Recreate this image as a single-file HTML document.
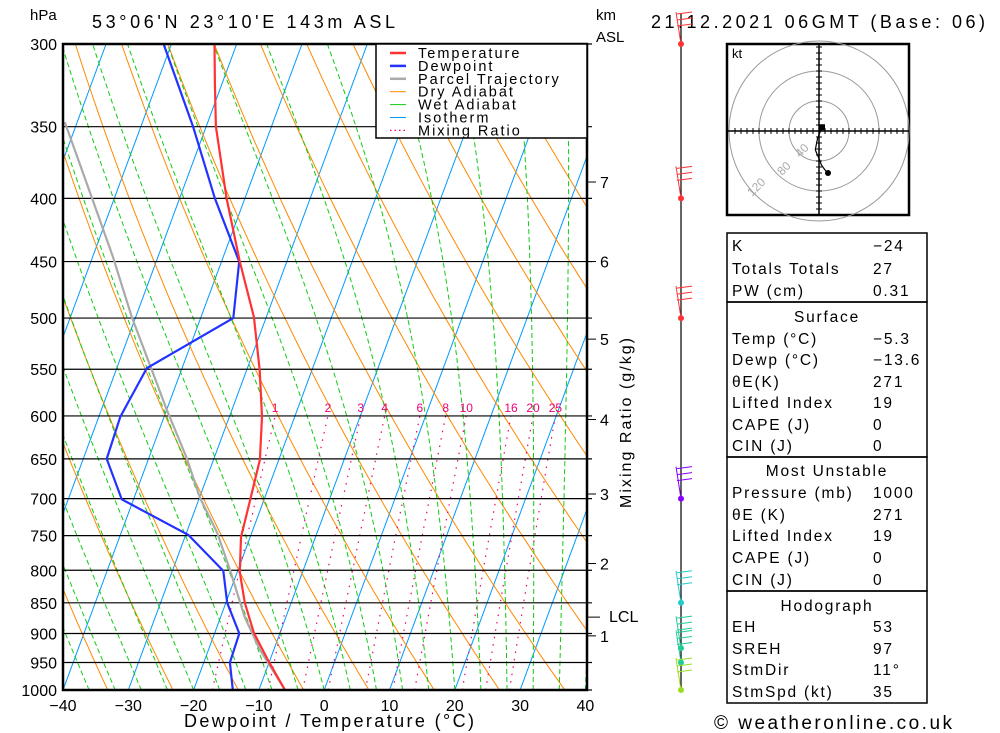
<!DOCTYPE html>
<html><head><meta charset="utf-8">
<style>
body{margin:0;background:#fff;}
svg{display:block;font-family:"Liberation Sans",sans-serif;}
</style></head>
<body>
<svg id="c" width="1000" height="733" viewBox="0 0 1000 733" xmlns="http://www.w3.org/2000/svg">
<defs><clipPath id="plot"><rect x="63" y="44" width="524" height="646"/></clipPath></defs>
<rect width="1000" height="733" fill="#fff"/>
<g id="bg" clip-path="url(#plot)"></g>
<g id="iso"></g>
<g id="series" clip-path="url(#plot)"></g>
<rect x="63" y="44" width="524" height="646" fill="none" stroke="#000" stroke-width="2.5"/>
<g id="axes" font-size="16"></g>
<text x="30" y="20" font-size="15">hPa</text>
<text x="92" y="28" font-size="18" textLength="303" lengthAdjust="spacing">53°06'N 23°10'E 143m ASL</text>
<text x="596" y="20" font-size="15">km</text>
<text x="596" y="42" font-size="15">ASL</text>
<text x="651" y="28" font-size="18" textLength="334" lengthAdjust="spacing">21.12.2021 06GMT (Base: 06)</text>
<text x="184" y="727" font-size="18" textLength="290" lengthAdjust="spacing">Dewpoint / Temperature (°C)</text>
<text transform="translate(631,508) rotate(-90)" font-size="16" textLength="170" lengthAdjust="spacing">Mixing Ratio (g/kg)</text>
<g>
<rect x="376" y="44" width="211" height="94" fill="#fff" stroke="#000" stroke-width="1.5"/>
<g font-size="14.5" letter-spacing="2" id="legend"></g>
</g>
<g id="winds"></g>
<g id="hodo"></g>
<g id="table" font-size="15.5" letter-spacing="1.8"></g>
<text x="714" y="729" font-size="19" textLength="238" lengthAdjust="spacing">© weatheronline.co.uk</text>
</svg>
<script>
// ---- data ----
const tempP = [300,323,350,400,450,499,551,601,651,702,752,803,850,899,946,1000];
const tempT = [-53.4,-51.1,-48.5,-42.8,-37.2,-31.9,-28.0,-25.0,-22.9,-22.1,-21.4,-19.6,-17.1,-14.0,-10.3,-6.0];
const dewP = [300,350,400,450,500,549,601,650,701,749,801,850,900,950,1000];
const dewT = [-61.2,-52.0,-44.6,-37.3,-35.0,-45.4,-46.7,-46.4,-41.8,-29.6,-22.2,-19.8,-16.2,-16.0,-14.0];
const parcelP = [347,400,446,499,551,593,649,698,746,800,873,928,1000];
const parcelT = [-71.9,-63.4,-56.9,-50.6,-44.5,-40.0,-34.2,-30.0,-25.3,-21.2,-16.3,-12.1,-6.0];
const isobars = [300,350,400,450,500,550,600,650,700,750,800,850,900,950,1000];
const xTicks = [-40,-30,-20,-10,0,10,20,30,40];
const kmLabels = [1,2,3,4,5,6,7];
const kmPress = [904,790,694,604,520,450,388];
const mixRatios = [1,2,3,4,6,8,10,16,20,25];
const windP = [300,400,500,700,850,925,950,1000];
const windColors = ['#f33','#f33','#f33','#80f','#2cc','#2c9','#2c9','#9d2'];
const hodoU = [4,-2,-5,-3,1,3,8,12];
const hodoV = [5,-10,-25,-30,-39,-45,-52,-56];

// ---- scales ----
const NS="http://www.w3.org/2000/svg";
function Y(p){return 44+Math.log(p/300)/Math.log(1000/300)*646;}
function X(T,p){return 63+(T+40)*6.53+(690-Y(p))*0.37;}
function el(tag,attrs,parent,txt){const e=document.createElementNS(NS,tag);for(const k in attrs)e.setAttribute(k,attrs[k]);if(txt!==undefined)e.textContent=txt;parent.appendChild(e);return e;}
function pathFrom(ps,ts){return ps.map((p,i)=>(i?'L':'M')+X(ts[i],p).toFixed(1)+','+Y(p).toFixed(1)).join('');}
const bg=document.getElementById('bg');
for(let T=-120;T<=40;T+=10){
  const l=el('line',{x1:X(T,1000),y1:Y(1000),x2:X(T,300),y2:Y(300),stroke:'#09f','stroke-width':1},bg);
  
  
}
const pS=[];for(let p=1000;p>=300;p-=10)pS.push(p);
for(let th=200;th<=500;th+=10){
  const ts=pS.map(p=>th*Math.pow(p/1000,0.286)-273.15);
  const l=el('path',{d:pathFrom(pS,ts),fill:'none',stroke:'#f80','stroke-width':1},bg);
  
  
}
function es(T){return 6.112*Math.exp(17.67*T/(T+243.5));}
for(let T0=-44;T0<=44;T0+=4){
  let T=T0+273.15;const ps=[1000],ts=[T0];
  for(let p=1000;p>300;p-=5){
    const rs=0.622*es(T-273.15)/(p-es(T-273.15));
    const d=(287*T+2.5e6*rs)/(p*(1004+2.5e6*2.5e6*rs*0.622/(287*T*T)));
    T-=d*5;ps.push(p-5);ts.push(T-273.15);
  }
  const l=el('path',{d:pathFrom(ps,ts),fill:'none',stroke:'#1c1','stroke-width':1,'stroke-dasharray':'5,3'},bg);
  
  
}
mixRatios.forEach(w=>{
  const ps=[],ts=[];
  for(let p=1000;p>=600;p-=20){const e=w*p/(622+w);const a=Math.log(e/6.112);ps.push(p);ts.push(243.5*a/(17.67-a));}
  const l=el('path',{d:pathFrom(ps,ts),fill:'none',stroke:'#e07','stroke-width':1.2,'stroke-dasharray':'1.5,6'},bg);
  
  
  const t=el('text',{x:X(ts[ts.length-1],600),y:412,fill:'#e07','font-size':12,'text-anchor':'middle'},document.getElementById('axes'),String(w));
  
  
});
const iso=document.getElementById('iso'),axes=document.getElementById('axes');
isobars.forEach(p=>{
  const l=el('line',{x1:63,x2:592,y1:Y(p),y2:Y(p),stroke:'#000','stroke-width':1.2},iso);
  
  
  const t=el('text',{x:57,y:Y(p)+6,'text-anchor':'end'},axes,String(p));
  
  
});
xTicks.forEach(T=>{
  const t=el('text',{x:X(T,1000),y:711,'text-anchor':'middle'},axes,(T<0?'−':'')+Math.abs(T));
  
  
});
kmLabels.forEach((k,i)=>{
  const y=Y(kmPress[i]);
  el('line',{x1:587,x2:596,y1:y,y2:y,stroke:'#000'},axes);
  const t=el('text',{x:600,y:y+6},axes,String(k));
  
  
});
el('line',{x1:587,x2:600,y1:Y(873),y2:Y(873),stroke:'#000'},axes);
const lcl=el('text',{x:609,y:Y(873)+5},axes,'LCL');


const ser=document.getElementById('series');
[[parcelP,parcelT,'#aaa','parcel-trajectory'],[dewP,dewT,'#23f','dewpoint-line'],[tempP,tempT,'#f33','temperature-line']].forEach(s=>{
  const l=el('path',{d:pathFrom(s[0],s[1]),fill:'none',stroke:s[2],'stroke-width':2.2},ser);
  
  
});
const lg=document.getElementById('legend');
[['Temperature','#f33',2.5,''],['Dewpoint','#23f',2.5,''],['Parcel Trajectory','#aaa',2.5,''],['Dry Adiabat','#f80',1,''],['Wet Adiabat','#1c1',1,''],['Isotherm','#09f',1,''],['Mixing Ratio','#e07',1.2,'1.5,3']].forEach((e,i)=>{
  const y=53+i*12.9;
  el('line',{x1:390,x2:406,y1:y,y2:y,stroke:e[1],'stroke-width':e[2],'stroke-dasharray':e[3]||'none'},lg);
  const t=el('text',{x:418,y:y+5},lg,e[0]);
  
  
});
const wg=document.getElementById('winds');
el('line',{x1:681,x2:681,y1:14,y2:690,stroke:'#000','stroke-width':1.2},wg);
windP.forEach((p,i)=>{
  const y=Y(p),c=windColors[i];
  el('line',{x1:681,y1:y,x2:676,y2:y-32,stroke:c},wg);
  for(let k=0;k<3;k++)el('line',{x1:677,y1:y-30+k*6,x2:692,y2:y-32+k*6,stroke:c},wg);
  const d=el('circle',{cx:681,cy:y,r:3,fill:c},wg);
  
  
});
const hg=document.getElementById('hodo');const cx=819,cy=131;
el('rect',{x:727,y:44,width:182,height:171,fill:'#fff',stroke:'#000','stroke-width':2.5},hg);
[30,60,90].forEach(r=>el('circle',{cx:cx,cy:cy,r:r,fill:'none',stroke:'#999'},hg));
el('line',{x1:727,x2:909,y1:cy,y2:cy,stroke:'#000','stroke-width':1.5},hg);
el('line',{x1:cx,x2:cx,y1:44,y2:215,stroke:'#000','stroke-width':1.5},hg);
for(let d=-84;d<=84;d+=6){el('line',{x1:cx+d,x2:cx+d,y1:cy-3,y2:cy+3,stroke:'#000'},hg);el('line',{x1:cx-3,x2:cx+3,y1:cy+d,y2:cy+d,stroke:'#000'},hg);}
el('text',{x:732,y:58,'font-size':13},hg,'kt');
[['40',800,158],['80',782,176],['120',752,197]].forEach(a=>el('text',{x:a[1],y:a[2],'font-size':12,fill:'#aaa',transform:`rotate(-45 ${a[1]} ${a[2]})`},hg,a[0]));
const hp=hodoU.map((u,i)=>(i?'L':'M')+(cx+u*0.75).toFixed(1)+','+(cy-hodoV[i]*0.75).toFixed(1)).join('');
const hl=el('path',{d:hp,fill:'none',stroke:'#000','stroke-width':1.2},hg);


el('rect',{x:cx+3-3,y:cy-3.75-3,width:6,height:6,fill:'#000'},hg);
el('circle',{cx:cx+12*0.75,cy:cy+56*0.75,r:3,fill:'#000'},hg);
const tb=document.getElementById('table');
[[233,302],[302,457],[457,591],[591,703]].forEach(b=>el('rect',{x:727,y:b[0],width:200,height:b[1]-b[0],fill:'none',stroke:'#000','stroke-width':1.5},tb));
const rows=[[251,'K','−24'],[274,'Totals Totals','27'],[296,'PW (cm)','0.31'],[322,'Surface',null],[344,'Temp (°C)','−5.3'],[365,'Dewp (°C)','−13.6'],[387,'θE(K)','271'],[408,'Lifted Index','19'],[430,'CAPE (J)','0'],[451,'CIN (J)','0'],[476,'Most Unstable',null],[498,'Pressure (mb)','1000'],[520,'θE (K)','271'],[541,'Lifted Index','19'],[563,'CAPE (J)','0'],[585,'CIN (J)','0'],[611,'Hodograph',null],[632,'EH','53'],[654,'SREH','97'],[675,'StmDir','11°'],[697,'StmSpd (kt)','35']];
rows.forEach(r=>{
  if(r[2]===null){el('text',{x:827,y:r[0],'text-anchor':'middle'},tb,r[1]);return;}
  const t=el('text',{x:732,y:r[0]},tb,r[1]);
  
  
  const v=el('text',{x:873,y:r[0]},tb,r[2]);
  
  
});
</script>
</body></html>
